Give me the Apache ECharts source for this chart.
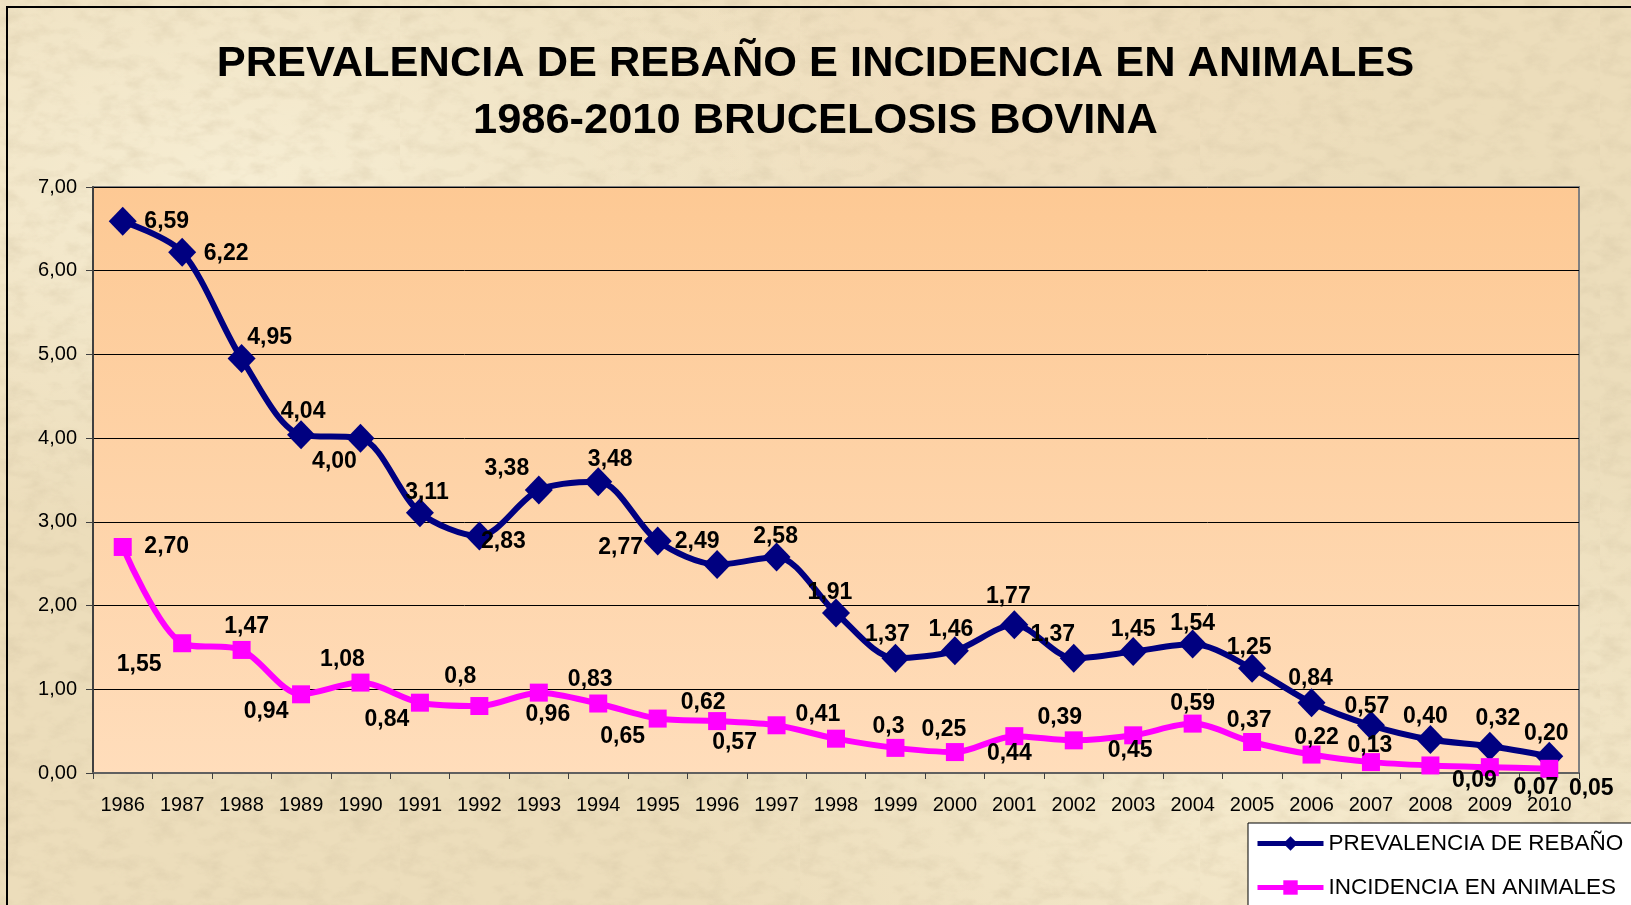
<!DOCTYPE html>
<html>
<head>
<meta charset="utf-8">
<script src="https://cdn.jsdelivr.net/npm/echarts@6/dist/echarts.min.js"></script>
<style>
html, body { margin: 0; padding: 0; }
body {
  width: 1631px; height: 905px; overflow: hidden;
  background-color: #ECDDBB;
  background-image:
    url("data:image/svg+xml;utf8,<svg xmlns='http://www.w3.org/2000/svg' width='400' height='400'><filter id='n'><feTurbulence type='fractalNoise' baseFrequency='0.04 0.07' numOctaves='4' seed='3'/><feColorMatrix type='matrix' values='0 0 0 0 0.62  0 0 0 0 0.52  0 0 0 0 0.34  0 0 0 0.7 -0.3'/></filter><rect width='100%' height='100%' filter='url(%23n)'/></svg>"),
    radial-gradient(ellipse at 15% 20%, rgba(255,250,230,0.55), rgba(255,250,230,0) 35%),
    radial-gradient(ellipse at 80% 85%, rgba(255,248,225,0.5), rgba(255,248,225,0) 35%),
    radial-gradient(ellipse at 60% 10%, rgba(245,225,195,0.5), rgba(245,225,195,0) 30%);
}
#chart { width: 1631px; height: 905px; }
</style>
</head>
<body>
<div id="chart"></div>
<script>
// ---- data ----
const years = ['1986','1987','1988','1989','1990','1991','1992','1993','1994','1995','1996','1997','1998','1999','2000','2001','2002','2003','2004','2005','2006','2007','2008','2009','2010'];
const prevalencia = [6.59, 6.22, 4.95, 4.04, 4.00, 3.11, 2.83, 3.38, 3.48, 2.77, 2.49, 2.58, 1.91, 1.37, 1.46, 1.77, 1.37, 1.45, 1.54, 1.25, 0.84, 0.57, 0.40, 0.32, 0.20];
const incidencia = [2.70, 1.55, 1.47, 0.94, 1.08, 0.84, 0.80, 0.96, 0.83, 0.65, 0.62, 0.57, 0.41, 0.30, 0.25, 0.44, 0.39, 0.45, 0.59, 0.37, 0.22, 0.13, 0.09, 0.07, 0.05];
const prevLabels = ['6,59','6,22','4,95','4,04','4,00','3,11','2,83','3,38','3,48','2,77','2,49','2,58','1,91','1,37','1,46','1,77','1,37','1,45','1,54','1,25','0,84','0,57','0,40','0,32','0,20'];
const incLabels = ['2,70','1,55','1,47','0,94','1,08','0,84','0,8','0,96','0,83','0,65','0,62','0,57','0,41','0,3','0,25','0,44','0,39','0,45','0,59','0,37','0,22','0,13','0,09','0,07','0,05'];
const yTickLabels = ['0,00','1,00','2,00','3,00','4,00','5,00','6,00','7,00'];
const seriesNames = ['PREVALENCIA DE REBAÑO', 'INCIDENCIA EN ANIMALES'];
const titleText = 'PREVALENCIA DE REBAÑO E INCIDENCIA EN ANIMALES\n1986-2010 BRUCELOSIS BOVINA';

// ---- label placement (styling, px offsets from each marker) ----
const prevOffsets = [[44,0],[44,1],[28,-21],[2,-23],[-26,24],[7,-20],[24,6],[-32,-21],[12,-22],[-37,7],[-20,-23],[-1,-20],[-6,-20],[-8,-24],[-4,-21],[-6,-28],[-21,-24],[0,-22],[0,-20],[-3,-21],[-1,-24],[-4,-19],[-5,-23],[8,-28],[-3,-23]];
const incOffsets = [[44,0],[-43,21],[5,-23],[-35,17],[-18,-23],[-33,17],[-19,-29],[9,22],[-8,-24],[-35,18],[-14,-18],[-42,17],[-18,-24],[-7,-21],[-11,-22],[-5,17],[-14,-23],[-3,15],[0,-20],[-3,-21],[5,-17],[-1,-16],[44,15],[46,21],[42,20]];

const FONT = "'Liberation Sans', Arial, sans-serif";

function buildData(values, labels, offsets) {
  return values.map((v, i) => ({
    value: v,
    label: { formatter: labels[i], offset: offsets[i] }
  }));
}

const chart = echarts.init(document.getElementById('chart'), null, { renderer: 'canvas' });

const labelStyle = {
  show: true,
  position: 'inside',
  color: '#000',
  fontFamily: FONT,
  fontWeight: 'bold',
  fontSize: 23
};

chart.setOption({
  backgroundColor: 'transparent',
  animation: false,
  title: {
    text: titleText,
    left: 'center',
    top: 31,
    textStyle: {
      fontFamily: FONT,
      fontWeight: 'bold',
      fontSize: 43.4,
      lineHeight: 57,
      color: '#000'
    }
  },
  graphic: [{
    type: 'rect',
    shape: { x: 7, y: 7, width: 2000, height: 2000 },
    style: { fill: 'none', stroke: '#000', lineWidth: 2 },
    z: -1, silent: true
  }],
  legend: {
    orient: 'horizontal',
    left: 1248,
    top: 823,
    width: 300,
    padding: [9, 30, 30, 7],
    itemGap: 21,
    itemWidth: 66,
    itemHeight: 18,
    backgroundColor: '#fff',
    borderColor: '#000',
    borderWidth: 1,
    lineStyle: { width: 5 },
    textStyle: { fontFamily: FONT, fontSize: 22.5, color: '#000' },
    data: seriesNames
  },
  grid: {
    left: 93, right: 52, top: 187, bottom: 132,
    show: true,
    borderColor: '#808080',
    borderWidth: 2,
    backgroundColor: new echarts.graphic.LinearGradient(0, 0, 0, 1, [
      { offset: 0, color: '#FDC994' },
      { offset: 1, color: '#FFDDBB' }
    ])
  },
  xAxis: {
    type: 'category',
    data: years,
    boundaryGap: true,
    axisLine: { show: true, lineStyle: { color: '#606060', width: 2 } },
    axisTick: { show: true, length: 6, lineStyle: { color: '#404040', width: 1 } },
    axisLabel: { fontFamily: FONT, fontSize: 20, color: '#000', margin: 22, interval: 0 },
    splitLine: { show: false }
  },
  yAxis: {
    type: 'value',
    min: 0, max: 7, interval: 1,
    axisLine: { show: true, lineStyle: { color: '#404040', width: 2 } },
    axisTick: { show: true, length: 7, lineStyle: { color: '#404040', width: 1 } },
    axisLabel: {
      fontFamily: FONT, fontSize: 20, color: '#000', margin: 16,
      formatter: (v) => yTickLabels[Math.round(v)]
    },
    splitLine: { show: true, lineStyle: { color: '#000', width: 1 } }
  },
  series: [
    {
      name: seriesNames[0],
      type: 'line',
      smooth: 0.3,
      data: buildData(prevalencia, prevLabels, prevOffsets),
      symbol: 'diamond',
      symbolSize: [28, 29],
      lineStyle: { color: '#000080', width: 6 },
      itemStyle: { color: '#000080' },
      label: labelStyle,
      z: 3
    },
    {
      name: seriesNames[1],
      type: 'line',
      smooth: 0.3,
      data: buildData(incidencia, incLabels, incOffsets),
      symbol: 'rect',
      symbolSize: 18,
      lineStyle: { color: '#FF00FF', width: 6 },
      itemStyle: { color: '#FF00FF' },
      label: labelStyle,
      z: 4
    }
  ]
});
</script>
</body>
</html>
